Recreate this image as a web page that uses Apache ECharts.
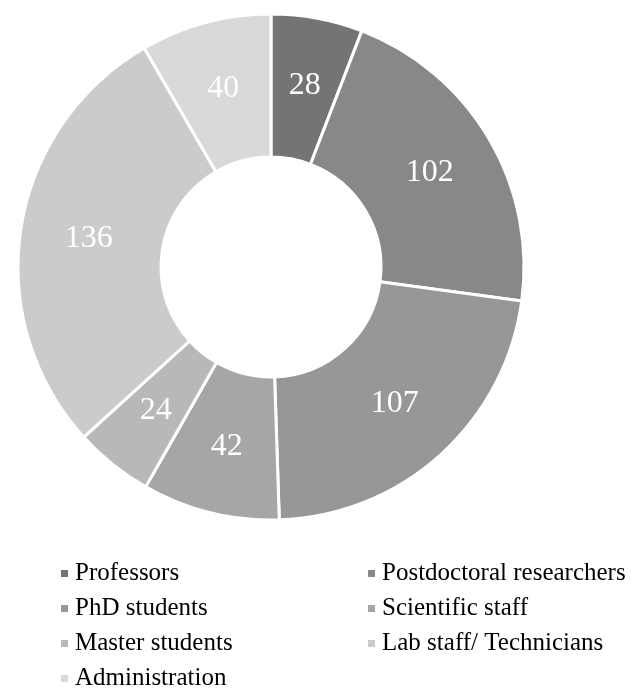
<!DOCTYPE html>
<html>
<head>
<meta charset="utf-8">
<script src="https://cdn.jsdelivr.net/npm/echarts@6/dist/echarts.min.js"></script>
<style>
  html, body { margin: 0; padding: 0; background: #fff; }
  #chart { width: 643px; height: 697px; }
</style>
</head>
<body>
<div id="chart"></div>
<script>
var categories = ['Professors', 'Postdoctoral researchers', 'PhD students', 'Scientific staff',
                  'Master students', 'Lab staff/ Technicians', 'Administration'];
var counts = [28, 102, 107, 42, 24, 136, 40];
var greys = ['#747474', '#888888', '#979797', '#a6a6a6', '#b8b8b8', '#cbcbcb', '#d9d9d9'];

// legend in two columns, like the original
var leftColumn = [categories[0], categories[2], categories[4], categories[6]];
var rightColumn = [categories[1], categories[3], categories[5]];

var fontName = '"Liberation Serif", "DejaVu Serif", serif';

var pieData = [];
for (var i = 0; i < categories.length; i++) {
  pieData.push({ name: categories[i], value: counts[i], itemStyle: { color: greys[i] } });
}

function makeLegend(items, left) {
  return {
    orient: 'vertical',
    left: left,
    top: 556,
    height: 145,
    padding: 0,
    data: items,
    icon: 'rect',
    itemWidth: 9,
    itemHeight: 9,
    itemGap: 0,
    selectedMode: false,
    textStyle: {
      fontFamily: fontName,
      fontSize: 25,
      color: '#000',
      lineHeight: 35,
      padding: [0, 0, 0, 1]
    }
  };
}

var chart = echarts.init(document.getElementById('chart'));
chart.setOption({
  animation: false,
  color: greys,
  legend: [makeLegend(leftColumn, 59), makeLegend(rightColumn, 366)],
  series: [{
    type: 'pie',
    center: [271, 267],
    radius: [110, 253],
    startAngle: 90,
    clockwise: true,
    avoidLabelOverlap: false,
    itemStyle: { borderColor: '#fff', borderWidth: 3 },
    label: {
      show: true,
      position: 'inside',
      formatter: '{c}',
      color: '#fff',
      fontFamily: fontName,
      fontSize: 32
    },
    labelLine: { show: false },
    emphasis: { disabled: true },
    data: pieData
  }]
});
</script>
</body>
</html>
